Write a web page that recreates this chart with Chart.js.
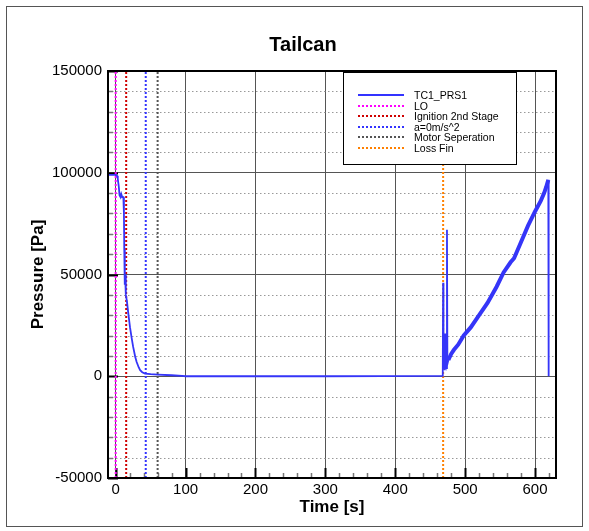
<!DOCTYPE html>
<html>
<head>
<meta charset="utf-8">
<script src="https://cdn.jsdelivr.net/npm/chart.js@4/dist/chart.umd.min.js"></script>
<style>
  body { margin: 0; background: #fff; font-family: "Liberation Sans", Arial, sans-serif; }
  #wrap { position: relative; width: 589px; height: 531px; }
  #frame { position: absolute; left: 6px; top: 6px; width: 577px; height: 521px; border: 1px solid #555; box-sizing: border-box; }
  #title { position: absolute; left: 203px; width: 200px; top: 33px; text-align: center; font-weight: bold; font-size: 20px; }
  #legend { position: absolute; left: 343px; top: 72px; width: 174px; height: 93px; border: 1px solid #000; background: #fff; box-sizing: border-box; }
  .row { position: absolute; left: 0; height: 12px; font-size: 10.5px; line-height: 12px; white-space: nowrap; }
  .row i { position: absolute; left: 14px; top: 5px; width: 46px; height: 0; border-top: 2px dotted; }
  .row span { position: absolute; left: 70px; top: 0; }
  canvas { position: absolute; left: 0; top: 0; }
</style>
</head>
<body>
<div id="wrap">
  <canvas id="chart" width="589" height="531"></canvas>
  <div id="frame"></div>
  <div id="title">Tailcan</div>
  <div id="legend"></div>
</div>
<script>
// 数据
const timeS = [-10, 0, 2, 3, 4.5, 5.5, 7, 8, 9.5, 11, 11.8, 12.3, 13, 13.5, 14.5, 16, 18, 20.5, 23, 25, 28, 30, 33, 35, 38, 42, 50, 60, 80, 95, 100, 150, 300, 467,
  468, 468.5, 469, 470, 471, 471.5, 472.5, 473.5, 474, 474.6, 476, 480, 484, 490, 498, 508, 520, 532, 545, 555, 565, 570, 580, 590, 600, 608, 613, 616, 619, 619.5];
const pressurePa = [99000, 99000, 98500, 97000, 93000, 89000, 88000, 89500, 88000, 88000, 80000, 62000, 45000, 50000, 40000, 37000, 31000, 24000, 18500, 14400, 9500, 7000, 4300, 3000, 2000, 1300, 1000, 800, 500, 200, 0, 0, 0, 200,
  1000, 46000, 20000, 5000, 3000, 21000, 6000, 4000, 72000, 6000, 8000, 11000, 13000, 15500, 20000, 24000, 30000, 36000, 44000, 51000, 56000, 58000, 66000, 74000, 81000, 86000, 90000, 93000, 96500, 0];

const eventNames = ["LO", "Ignition 2nd Stage", "a=0m/s^2", "Motor Seperation", "Loss Fin"];
const eventTimes = [0, 15, 43, 60, 468.5];
const eventColors = ["#ff00ff", "#d00000", "#3333ff", "#555555", "#ff8000"];

const seriesName = "TC1_PRS1";
const xTickValues = [0, 100, 200, 300, 400, 500, 600];
const yTickValues = [-50000, 0, 50000, 100000, 150000];

const xMin = -11, xMax = 630;
const yMin = yTickValues[0], yMax = yTickValues[yTickValues.length - 1];

// 图例
const legend = document.getElementById("legend");
const legendItems = [{ name: seriesName, color: "#3333ff", solid: true }]
  .concat(eventNames.map((n, i) => ({ name: n, color: eventColors[i] })));
legendItems.forEach((it, i) => {
  const row = document.createElement("div");
  row.className = "row";
  row.style.top = (16 + i * 10.5) + "px";
  row.style.width = "170px";
  const line = document.createElement("i");
  line.style.borderTopColor = it.color;
  if (it.solid) line.style.borderTopStyle = "solid";
  const txt = document.createElement("span");
  txt.textContent = it.name;
  row.appendChild(line);
  row.appendChild(txt);
  legend.appendChild(row);
});

// 网格和刻度
const tecplotFrame = {
  id: "tecplotFrame",
  beforeDatasetsDraw(chart) {
    const { ctx, chartArea: a, scales: { x, y } } = chart;
    ctx.save();
    ctx.lineWidth = 1;
    ctx.strokeStyle = "#999";
    ctx.setLineDash([1.5, 2.5]);
    for (let v = yMin; v <= yMax; v += 10000) {
      if (v % 50000 === 0) continue;
      const py = Math.round(y.getPixelForValue(v)) + 0.5;
      ctx.beginPath(); ctx.moveTo(a.left, py); ctx.lineTo(a.right, py); ctx.stroke();
    }
    ctx.setLineDash([]);
    // y 刻度
    for (let v = yMin; v <= yMax; v += 10000) {
      const py = Math.round(y.getPixelForValue(v)) + 0.5;
      const major = v % 50000 === 0;
      ctx.strokeStyle = major ? "#000" : "#777";
      ctx.lineWidth = major ? 2 : 1.5;
      ctx.beginPath(); ctx.moveTo(a.left, py); ctx.lineTo(a.left + (major ? 10 : 5), py); ctx.stroke();
    }
    // x 刻度
    for (let v = 0; v <= xMax; v += 20) {
      const px = Math.round(x.getPixelForValue(v)) + 0.5;
      const major = v % 100 === 0;
      ctx.strokeStyle = major ? "#000" : "#777";
      ctx.lineWidth = major ? 2 : 1.5;
      ctx.beginPath(); ctx.moveTo(px, a.bottom); ctx.lineTo(px, a.bottom - (major ? 10 : 5)); ctx.stroke();
    }
    ctx.restore();
  },
  afterDraw(chart) {
    const { ctx, chartArea: a } = chart;
    ctx.save();
    ctx.strokeStyle = "#000";
    ctx.lineWidth = 2;
    ctx.strokeRect(a.left, a.top, a.right - a.left, a.bottom - a.top);
    ctx.restore();
  }
};

const mainData = timeS.map((t, i) => ({ x: t, y: pressurePa[i] }));
const eventSets = eventTimes.map((t, i) => ({
  label: eventNames[i],
  data: [{ x: t, y: yMin }, { x: t, y: yMax }],
  borderColor: eventColors[i],
  borderWidth: 2,
  borderDash: [2, 2],
  pointRadius: 0,
  fill: false
}));

new Chart(document.getElementById("chart"), {
  type: "line",
  data: {
    datasets: [{
      label: seriesName,
      data: mainData,
      borderColor: "#3535f8",
      borderWidth: 1.8,
      pointRadius: 0,
      tension: 0,
      segment: {
        borderWidth: c => (c.p0.parsed.x >= 475 && c.p1.parsed.x <= 619.2) ? 4 : 1.8
      }
    }].concat(eventSets)
  },
  options: {
    responsive: false,
    animation: false,
    layout: { padding: { top: 71, right: 33, left: 0, bottom: 0 } },
    plugins: { legend: { display: false }, tooltip: { enabled: false } },
    scales: {
      x: {
        type: "linear",
        min: xMin,
        max: xMax,
        afterFit: s => { s.height = 53; },
        afterBuildTicks: s => { s.ticks = xTickValues.map(v => ({ value: v })); },
        grid: { color: "#555", lineWidth: 1, drawTicks: false },
        border: { display: false },
        ticks: { color: "#000", padding: 3, maxRotation: 0, font: { family: "Liberation Sans", size: 15 } },
        title: { display: true, text: "Time [s]", color: "#000", padding: { top: 0, bottom: 13 }, font: { family: "Liberation Sans", size: 17, weight: "bold" } }
      },
      y: {
        type: "linear",
        min: yMin,
        max: yMax,
        afterFit: s => { s.width = 108; },
        afterBuildTicks: s => { s.ticks = yTickValues.map(v => ({ value: v })); },
        grid: { color: "#555", lineWidth: 1, drawTicks: false },
        border: { display: false },
        ticks: { color: "#000", padding: 6, callback: v => String(v), font: { family: "Liberation Sans", size: 15 } },
        title: { display: true, text: "Pressure [Pa]", color: "#000", padding: { top: 28, bottom: 0 }, font: { family: "Liberation Sans", size: 17, weight: "bold" } }
      }
    }
  },
  plugins: [tecplotFrame]
});
</script>
</body>
</html>
